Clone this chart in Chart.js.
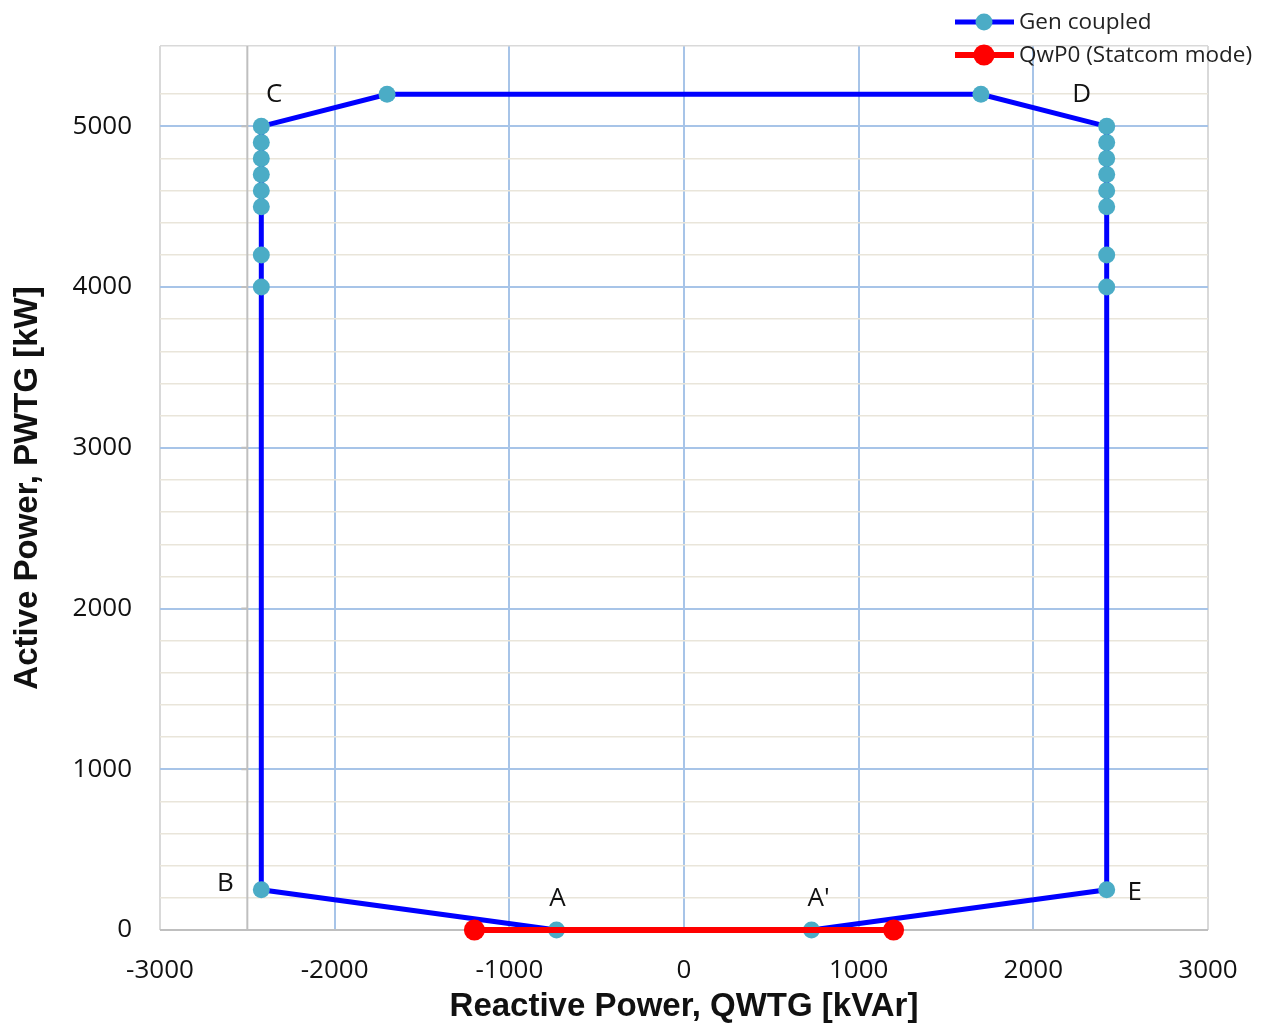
<!DOCTYPE html>
<html>
<head>
<meta charset="utf-8">
<script src="https://cdn.jsdelivr.net/npm/chart.js@4.4.0/dist/chart.umd.min.js"></script>
<style>
  html, body { margin: 0; padding: 0; background: #fff; }
  #wrap { width: 1265px; height: 1025px; position: relative; }
</style>
</head>
<body>
<div id="wrap"><canvas id="pqChart" width="1265" height="1025"></canvas></div>
<script>
// Gen coupled capability curve (Q in kVAr, P in kW)
const genQ = [-730, -2420, -2420, -2420, -2420, -2420, -2420, -2420, -2420, -2420, -1700, 1700, 2420, 2420, 2420, 2420, 2420, 2420, 2420, 2420, 2420, 730];
const genP = [0, 250, 4000, 4200, 4500, 4600, 4700, 4800, 4900, 5000, 5200, 5200, 5000, 4900, 4800, 4700, 4600, 4500, 4200, 4000, 250, 0];

// QwP0 (Statcom mode)
const statQ = [-1200, 1200];
const statP = [0, 0];

// corner labels and the gen point index they annotate
const cornerNames = ['A', 'B', 'C', 'D', 'E', "A'"];
const cornerIndex = [0, 1, 9, 12, 20, 21];

const seriesNames = ['Gen coupled', 'QwP0 (Statcom mode)'];
const xTicks = [-3000, -2000, -1000, 0, 1000, 2000, 3000];
const yTicks = [0, 1000, 2000, 3000, 4000, 5000];

const toPts = (xs, ys) => xs.map((x, i) => ({ x: x, y: ys[i] }));

const BLUE = '#0000ff';
const TEAL = '#4bacc6';
const RED = '#ff0000';
const MAJOR = '#a7c4e8';
const MINOR = '#e9e5da';
const BORDER = '#d9d9d9';
const SANS = '"Open Sans", "Noto Sans", sans-serif';

const decorPlugin = {
  id: 'decor',
  beforeDatasetsDraw(chart) {
    const { ctx, chartArea, scales } = chart;
    // vertical axis line crossing at -2500
    const xv = scales.x.getPixelForValue(-2500);
    ctx.save();
    ctx.strokeStyle = '#bfbfbf';
    ctx.lineWidth = 2;
    ctx.beginPath();
    ctx.moveTo(xv, chartArea.top);
    ctx.lineTo(xv, chartArea.bottom);
    yTicks.forEach(v => {
      const yp = scales.y.getPixelForValue(v);
      ctx.moveTo(xv - 6, yp);
      ctx.lineTo(xv, yp);
    });
    ctx.stroke();
    ctx.restore();
  },
  afterDatasetsDraw(chart) {
    const { ctx, scales } = chart;
    ctx.save();
    ctx.font = '26px ' + SANS;
    ctx.fillStyle = '#111';
    ctx.textBaseline = 'middle';
    ctx.textAlign = 'center';
    const offs = { A: [1, -31], B: [-36, -6], C: [13, -32], D: [-25, -32], E: [28, 3], "A'": [7, -31] };
    cornerNames.forEach((name, k) => {
      const i = cornerIndex[k];
      const px = scales.x.getPixelForValue(genQ[i]);
      const py = scales.y.getPixelForValue(genP[i]);
      const o = offs[name];
      ctx.fillText(name, px + o[0], py + o[1]);
    });
    ctx.restore();
  },
  afterDraw(chart) {
    const ctx = chart.ctx;
    ctx.save();
    const rows = [
      { y: 22, line: BLUE, lw: 5, dot: TEAL, r: 8.5 },
      { y: 55, line: RED, lw: 6, dot: RED, r: 10.5 }
    ];
    rows.forEach((row, i) => {
      ctx.strokeStyle = row.line;
      ctx.lineWidth = row.lw;
      ctx.beginPath();
      ctx.moveTo(955, row.y);
      ctx.lineTo(1014, row.y);
      ctx.stroke();
      ctx.fillStyle = row.dot;
      ctx.beginPath();
      ctx.arc(984, row.y, row.r, 0, Math.PI * 2);
      ctx.fill();
      ctx.fillStyle = '#222';
      ctx.font = '22.5px ' + SANS;
      ctx.textAlign = 'left';
      ctx.textBaseline = 'middle';
      ctx.fillText(seriesNames[i], 1019, row.y + 1);
    });
    ctx.restore();
  }
};

const ctx = document.getElementById('pqChart').getContext('2d');
const pqChart = new Chart(ctx, {
  type: 'scatter',
  data: {
    datasets: [
      {
        label: seriesNames[0],
        data: toPts(genQ, genP),
        showLine: true,
        borderColor: BLUE,
        borderWidth: 5,
        pointBackgroundColor: TEAL,
        pointBorderColor: TEAL,
        pointRadius: 8.5,
        pointBorderWidth: 0,
        order: 2
      },
      {
        label: seriesNames[1],
        data: toPts(statQ, statP),
        showLine: true,
        borderColor: RED,
        borderWidth: 6,
        pointBackgroundColor: RED,
        pointBorderColor: RED,
        pointRadius: 10.5,
        pointBorderWidth: 0,
        order: 1
      }
    ]
  },
  options: {
    responsive: false,
    animation: false,
    clip: false,
    layout: { padding: { top: 46, right: 57 } },
    plugins: {
      legend: { display: false },
      tooltip: { enabled: false }
    },
    scales: {
      x: {
        type: 'linear',
        min: -3000,
        max: 3000,
        afterFit: s => { s.height = 95; },
        afterBuildTicks: s => { s.ticks = xTicks.map(v => ({ value: v })); },
        border: { display: false },
        grid: {
          drawTicks: false,
          lineWidth: 2,
          color: c => (c.tick && Math.abs(c.tick.value) === 3000) ? BORDER : MAJOR
        },
        ticks: {
          autoSkip: false,
          maxRotation: 0,
          padding: 25,
          color: '#111',
          font: { family: SANS, size: 26 },
          callback: v => String(v)
        },
        title: {
          display: true,
          text: 'Reactive Power, QWTG [kVAr]',
          color: '#111',
          padding: { top: 0, bottom: -2 },
          font: { family: '"Liberation Sans", Arial, sans-serif', size: 33, weight: 'bold' }
        }
      },
      y: {
        type: 'linear',
        min: 0,
        max: 5500,
        afterFit: s => { s.width = 160; },
        border: { display: false },
        grid: {
          drawTicks: false,
          lineWidth: c => (c.tick && c.tick.value % 1000 === 0) ? 2 : 1.5,
          color: c => {
            const v = c.tick ? c.tick.value : 0;
            if (v === 0) return '#bfbfbf';
            if (v === 5500) return BORDER;
            return v % 1000 === 0 ? MAJOR : MINOR;
          }
        },
        ticks: {
          autoSkip: false,
          stepSize: 200,
          padding: 28,
          color: '#111',
          font: { family: SANS, size: 26 },
          callback: v => (yTicks.includes(v) ? String(v) : '')
        },
        title: {
          display: true,
          text: 'Active Power, PWTG [kW]',
          color: '#111',
          padding: { top: 8, bottom: 0 },
          font: { family: '"Liberation Sans", Arial, sans-serif', size: 33, weight: 'bold' }
        }
      }
    }
  },
  plugins: [decorPlugin]
});
</script>
</body>
</html>
